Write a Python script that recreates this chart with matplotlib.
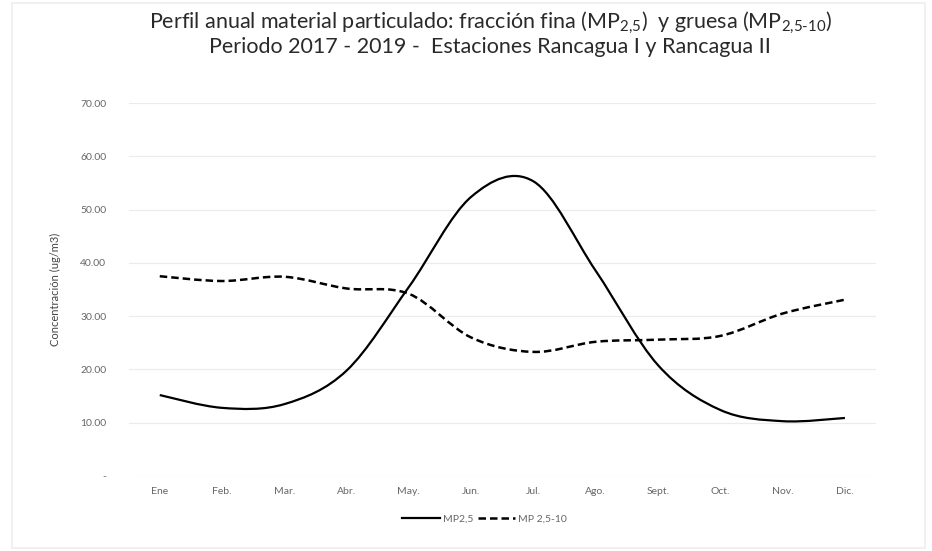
import matplotlib.pyplot as plt
from matplotlib.path import Path
from matplotlib.patches import PathPatch, Rectangle
from matplotlib.lines import Line2D

plt.rcParams['font.family'] = ['Lato', 'DejaVu Sans']
plt.rcParams['mathtext.fontset'] = 'custom'
plt.rcParams['mathtext.rm'] = 'Lato'
plt.rcParams['mathtext.it'] = 'Lato'

# Data
months = ["Ene", "Feb.", "Mar.", "Abr.", "May.", "Jun.", "Jul.", "Ago.",
          "Sept.", "Oct.", "Nov.", "Dic."]
mp25 = [15.2, 12.8, 13.5, 19.8, 35.5, 52.4, 55.3, 38.5, 20.8, 12.4, 10.3, 10.9]
mp25_10 = [37.5, 36.6, 37.4, 35.2, 34.2, 26.0, 23.3, 25.2, 25.6, 26.3, 30.5, 33.1]
yticks = [0, 10, 20, 30, 40, 50, 60, 70]


# Smoothed line like the spreadsheet (Bezier through the points)
def smooth_path(xs, ys, t=1 / 6):
    verts = [(xs[0], ys[0])]
    codes = [Path.MOVETO]
    n = len(xs)
    for i in range(n - 1):
        x0, y0 = xs[max(i - 1, 0)], ys[max(i - 1, 0)]
        x1, y1 = xs[i], ys[i]
        x2, y2 = xs[i + 1], ys[i + 1]
        x3, y3 = xs[min(i + 2, n - 1)], ys[min(i + 2, n - 1)]
        c1 = (x1 + (x2 - x0) * t, y1 + (y2 - y0) * t)
        c2 = (x2 - (x3 - x1) * t, y2 - (y3 - y1) * t)
        verts += [c1, c2, (x2, y2)]
        codes += [Path.CURVE4] * 3
    return Path(verts, codes)


fig = plt.figure(figsize=(9.32, 5.51), dpi=100)

# faint chart frame
fig.add_artist(Rectangle((0.013, 0.005), 0.98, 0.99, transform=fig.transFigure,
                         fill=False, edgecolor="#eeeeee", lw=1.2))

ax = fig.add_axes([0.138, 0.136, 0.802, 0.677])

x = list(range(len(months)))
ax.add_patch(PathPatch(smooth_path(x, mp25), fill=False, color="black",
                       lw=1.6, transform=ax.transData))
ax.add_patch(PathPatch(smooth_path(x, mp25_10), fill=False, color="black",
                       lw=1.8, linestyle=(0, (3, 1.6)), transform=ax.transData))

ax.set_xlim(-0.5, len(months) - 0.5)
ax.set_ylim(0, 70)
ax.set_xticks(x)
ax.set_xticklabels(months)
ax.set_yticks(yticks)
ax.set_yticklabels(["-" if v == 0 else "%.2f" % v for v in yticks])
ax.tick_params(length=0, labelsize=7.5, colors="#666666", pad=8)
ax.tick_params(axis="y", pad=16)
for s in ax.spines.values():
    s.set_visible(False)
ax.grid(axis="y", color="#ebebeb", lw=0.8)
ax.set_axisbelow(True)
ax.set_ylabel("Concentración (ug/m3)", fontsize=8, color="#444444", labelpad=14)

fig.text(0.526, 0.958,
         r"Perfil anual material particulado: fracción fina (MP$_{2{,}5}$)  y gruesa (MP$_{2{,}5\text{-}10}$)",
         ha="center", va="center", fontsize=15.5, color="#2a2a2a")
fig.text(0.526, 0.915, "Periodo 2017 - 2019 -  Estaciones Rancagua I y Rancagua II",
         ha="center", va="center", fontsize=15.5, color="#2a2a2a")

handles = [Line2D([], [], color="black", lw=1.6),
           Line2D([], [], color="black", lw=1.8, linestyle=(0, (3, 1.6)))]
fig.legend(handles, ["MP2,5", "MP 2,5-10"], loc="center", bbox_to_anchor=(0.52, 0.058),
           ncol=2, frameon=False, fontsize=7.5, labelcolor="#666666",
           handlelength=3.6, handletextpad=0.3, columnspacing=0.4)

fig.savefig("out.png", dpi=100)
